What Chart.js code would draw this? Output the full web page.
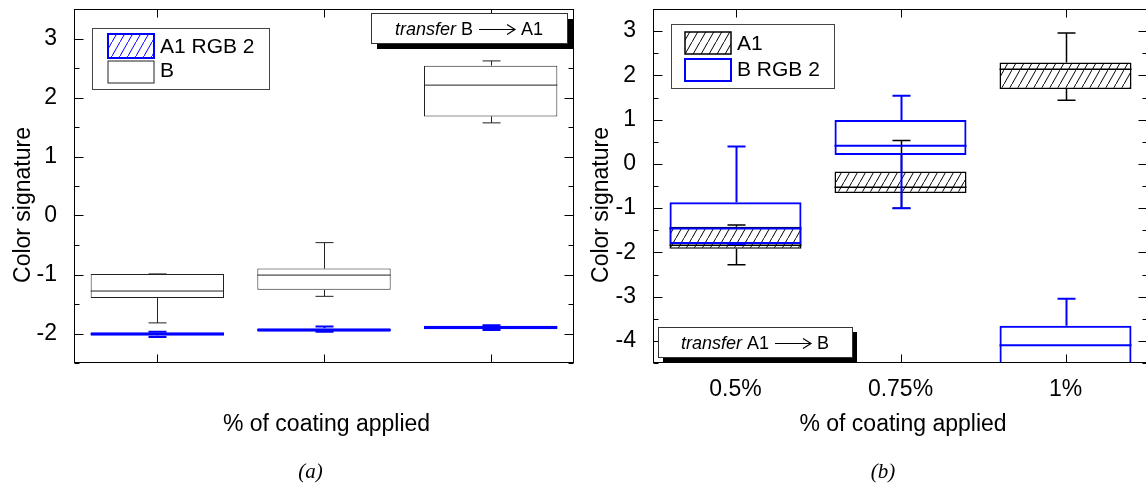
<!DOCTYPE html>
<html>
<head>
<meta charset="utf-8">
<script src="https://cdn.jsdelivr.net/npm/chart.js@4.4.0/dist/chart.umd.min.js"></script>
<style>
  html, body { margin: 0; padding: 0; background: #fff; width: 1146px; height: 484px; overflow: hidden; }
  #wrapA { position: absolute; left: 0; top: 0; width: 600px; height: 484px; }
  #wrapB { position: absolute; left: 580px; top: 0; width: 580px; height: 484px; }
  canvas { display: block; }
</style>
</head>
<body>
<div id="wrapA"><canvas id="chartA" width="600" height="484"></canvas></div>
<div id="wrapB"><canvas id="chartB" width="580" height="484"></canvas></div>
<script>
// ---- categories and tick values ----
const categories = ['0.5%', '0.75%', '1%'];
const yTicksA = [-2, -1, 0, 1, 2, 3];
const yTicksB = [-4, -3, -2, -1, 0, 1, 2, 3];

// ---- panel (a): transfer B -> A1 ----
const aRgbMin    = [-2.06, -1.97, -1.94];
const aRgbQ1     = [-2.04, -1.97, -1.93];
const aRgbMedian = [-2.01, -1.94, -1.90];
const aRgbQ3     = [-1.98, -1.91, -1.87];
const aRgbMax    = [-1.97, -1.88, -1.86];

const aBMin    = [-1.82, -1.37, 1.57];
const aBQ1     = [-1.40, -1.26, 1.68];
const aBMedian = [-1.28, -1.01, 2.21];
const aBQ3     = [-0.99, -0.90, 2.54];
const aBMax    = [-0.99, -0.46, 2.62];

// ---- panel (b): transfer A1 -> B ----
const bA1Min    = [-2.28, -1.00, 1.44];
const bA1Q1     = [-1.92, -0.66, 1.69];
const bA1Median = [-1.84, -0.53, 2.14];
const bA1Q3     = [-1.42, -0.17, 2.29];
const bA1Max    = [-1.38, 0.53, 2.96];

const bRgbMin    = [-1.81, -1.00, -4.90];
const bRgbQ1     = [-1.81, 0.20, -4.70];
const bRgbMedian = [-1.46, 0.41, -4.10];
const bRgbQ3     = [-0.87, 0.99, -3.66];
const bRgbMax    = [0.39, 1.54, -3.05];

const SANS = '"Liberation Sans", Arial, sans-serif';
const SERIF = '"Liberation Serif", "Times New Roman", serif';
const BLUE = '#0000ff';

// diagonal hatch fill
function hatch(color) {
  const c = document.createElement('canvas');
  c.width = 8; c.height = 14;
  const g = c.getContext('2d');
  g.fillStyle = '#fff';
  g.fillRect(0, 0, 8, 14);
  g.strokeStyle = color;
  g.lineWidth = 1;
  g.beginPath();
  g.moveTo(-1, 15.75);
  g.lineTo(9, -1.75);
  g.stroke();
  return g.createPattern(c, 'repeat');
}

function boxDataset(label, min, q1, med, q3, max, style) {
  return {
    label,
    data: q1.map((v, i) => [v, q3[i]]),
    stats: { min, med, max },
    backgroundColor: style.fill,
    borderColor: style.color,
    borderWidth: style.width,
    borderSkipped: false,
    order: style.order,
    legendRank: style.rank,
    grouped: false,
    barPercentage: 1,
    categoryPercentage: 0.8
  };
}

// whiskers, caps and median line drawn right after each box dataset
const whiskerPlugin = {
  id: 'whiskers',
  afterDatasetDraw(chart, args) {
    const ds = chart.data.datasets[args.index];
    if (!ds.stats) return;
    const { ctx, chartArea: a, scales: { y } } = chart;
    const cap = 9;
    ctx.save();
    ctx.beginPath();
    ctx.rect(a.left, a.top, a.right - a.left, a.bottom - a.top);
    ctx.clip();
    ctx.strokeStyle = ds.borderColor;
    ctx.lineWidth = ds.borderWidth;
    args.meta.data.forEach((bar, i) => {
      const cx = Math.round(bar.x) + 0.5;
      const hw = bar.width / 2;
      const [lo, hi] = ds.data[i];
      const pMin = y.getPixelForValue(ds.stats.min[i]);
      const pMax = y.getPixelForValue(ds.stats.max[i]);
      const pMed = y.getPixelForValue(ds.stats.med[i]);
      const pLo = y.getPixelForValue(lo);
      const pHi = y.getPixelForValue(hi);
      ctx.beginPath();
      ctx.moveTo(bar.x - hw, pMed); ctx.lineTo(bar.x + hw, pMed);
      ctx.moveTo(cx, pHi); ctx.lineTo(cx, pMax);
      ctx.moveTo(cx - cap, pMax); ctx.lineTo(cx + cap, pMax);
      ctx.moveTo(cx, pLo); ctx.lineTo(cx, pMin);
      ctx.moveTo(cx - cap, pMin); ctx.lineTo(cx + cap, pMin);
      ctx.stroke();
    });
    ctx.restore();
  }
};

// closed frame with inward tick marks on all four sides
const framePlugin = {
  id: 'frame',
  afterDatasetsDraw(chart) {
    const { ctx, chartArea: a, scales: { x, y } } = chart;
    const L = Math.round(a.left) + 0.5, R = Math.round(a.right) - 0.5;
    const T = Math.round(a.top) + 0.5, B = Math.round(a.bottom) - 0.5;
    ctx.save();
    ctx.strokeStyle = '#000';
    ctx.lineWidth = 1;
    ctx.strokeRect(L, T, R - L, B - T);
    ctx.beginPath();
    y.ticks.forEach(t => {
      const py = Math.round(y.getPixelForValue(t.value)) + 0.5;
      const len = Number.isInteger(t.value) ? 9 : 5;
      ctx.moveTo(L, py); ctx.lineTo(L + len, py);
      ctx.moveTo(R, py); ctx.lineTo(R - len, py);
    });
    x.ticks.forEach((t, i) => {
      const px = Math.round(x.getPixelForTick(i)) + 0.5;
      ctx.moveTo(px, T); ctx.lineTo(px, T + 8);
      ctx.moveTo(px, B); ctx.lineTo(px, B - 8);
    });
    ctx.stroke();
    ctx.restore();
  }
};

// legend box, "transfer" note, axis titles and caption
const decorPlugin = {
  id: 'decor',
  afterDraw(chart, args, o) {
    const { ctx, chartArea: a } = chart;
    ctx.save();

    // legend
    const lg = o.legend;
    ctx.fillStyle = '#fff';
    ctx.fillRect(lg.x, lg.y, lg.w, lg.h);
    ctx.strokeStyle = '#444';
    ctx.lineWidth = 1;
    ctx.strokeRect(lg.x + 0.5, lg.y + 0.5, lg.w, lg.h);
    const items = chart.data.datasets.slice().sort((p, q) => p.legendRank - q.legendRank);
    items.forEach((ds, i) => {
      const r = lg.rows[i];
      ctx.fillStyle = ds.backgroundColor;
      ctx.fillRect(lg.px, r.y, lg.pw, r.h);
      ctx.strokeStyle = ds.borderColor;
      ctx.lineWidth = ds.borderWidth;
      ctx.strokeRect(lg.px, r.y, lg.pw, r.h);
      ctx.fillStyle = '#000';
      ctx.font = '21px ' + SANS;
      ctx.textAlign = 'left';
      ctx.textBaseline = 'alphabetic';
      ctx.fillText(ds.label, lg.tx, r.base);
    });

    // transfer note with drop shadow
    const n = o.note;
    ctx.fillStyle = '#000';
    ctx.fillRect(n.x + n.sh, n.y + n.sh, n.w, n.h);
    ctx.fillStyle = '#fff';
    ctx.fillRect(n.x, n.y, n.w, n.h);
    ctx.strokeStyle = '#333';
    ctx.lineWidth = 1;
    ctx.strokeRect(n.x + 0.5, n.y + 0.5, n.w, n.h);
    const fi = 'italic 18px ' + SANS, fn = '18px ' + SANS;
    ctx.font = fi; const w1 = ctx.measureText('transfer ').width;
    ctx.font = fn; const w2 = ctx.measureText(n.from).width;
    const w3 = ctx.measureText(n.to).width;
    const arrow = 36, gap = 6;
    const total = w1 + w2 + gap + arrow + gap + w3;
    let cx = n.x + (n.w - total) / 2;
    const by = n.y + n.h / 2 + 6.5;
    ctx.fillStyle = '#000';
    ctx.textAlign = 'left';
    ctx.textBaseline = 'alphabetic';
    ctx.font = fi; ctx.fillText('transfer ', cx, by); cx += w1;
    ctx.font = fn; ctx.fillText(n.from, cx, by); cx += w2 + gap;
    const ay = Math.round(by - 6) + 0.5;
    ctx.strokeStyle = '#000';
    ctx.lineWidth = 1.2;
    ctx.beginPath();
    ctx.moveTo(cx, ay); ctx.lineTo(cx + arrow, ay);
    ctx.moveTo(cx + arrow - 8, ay - 5); ctx.lineTo(cx + arrow, ay); ctx.lineTo(cx + arrow - 8, ay + 5);
    ctx.stroke();
    cx += arrow + gap;
    ctx.fillText(n.to, cx, by);

    // axis titles
    ctx.fillStyle = '#000';
    ctx.font = '23px ' + SANS;
    ctx.textAlign = 'center';
    ctx.textBaseline = 'alphabetic';
    ctx.fillText(o.xTitle, (a.left + a.right) / 2 + 2.5, 431);
    ctx.save();
    ctx.translate(o.yTitleX, 205);
    ctx.rotate(-Math.PI / 2);
    ctx.fillText(o.yTitle, 0, 0);
    ctx.restore();

    // caption
    ctx.font = 'italic 21px ' + SERIF;
    ctx.fillText(o.caption.text, o.caption.x, 478);
    ctx.restore();
  }
};

function makeChart(id, datasets, yMin, yMax, yTicks, showX, padRight, yWidth, decor) {
  return new Chart(document.getElementById(id), {
    type: 'bar',
    data: { labels: categories, datasets },
    plugins: [whiskerPlugin, framePlugin, decorPlugin],
    options: {
      responsive: false,
      animation: false,
      devicePixelRatio: 1,
      layout: { padding: { top: 9, right: padRight, bottom: 0, left: 0 } },
      plugins: { legend: { display: false }, tooltip: { enabled: false }, decor },
      scales: {
        x: {
          type: 'category',
          offset: true,
          grid: { display: false },
          border: { display: false },
          ticks: { display: showX, padding: 5, color: '#000', font: { family: SANS, size: 23 } },
          afterFit(s) { s.height = 121; s.paddingLeft = 0; s.paddingRight = 0; }
        },
        y: {
          min: yMin,
          max: yMax,
          grid: { display: false },
          border: { display: false },
          ticks: {
            stepSize: 0.5,
            autoSkip: false,
            padding: 9,
            color: '#000',
            font: { family: SANS, size: 23 },
            callback: v => (yTicks.includes(v) ? String(v) : '')
          },
          afterFit(s) { s.width = yWidth; s.paddingTop = 0; s.paddingBottom = 0; }
        }
      }
    }
  });
}

const blueHatch = hatch(BLUE);
const blackHatch = hatch('#000');

makeChart('chartA', [
  boxDataset('A1 RGB 2', aRgbMin, aRgbQ1, aRgbMedian, aRgbQ3, aRgbMax,
    { color: BLUE, width: 2, fill: blueHatch, order: 1, rank: 0 }),
  boxDataset('B', aBMin, aBQ1, aBMedian, aBQ3, aBMax,
    { color: '#222', width: 1, fill: '#fff', order: 2, rank: 1 })
], -2.5, 3.5, yTicksA, false, 26, 74, {
  legend: { x: 92, y: 28, w: 177, h: 61, px: 108, pw: 46, tx: 160,
    rows: [{ y: 34, h: 24, base: 53 }, { y: 61, h: 22, base: 77 }] },
  note: { x: 371, y: 13, w: 196, h: 30, sh: 6, from: 'B', to: 'A1' },
  xTitle: '% of coating applied',
  yTitle: 'Color signature',
  yTitleX: 29.5,
  caption: { text: '(a)', x: 310.5 }
});

makeChart('chartB', [
  boxDataset('A1', bA1Min, bA1Q1, bA1Median, bA1Q3, bA1Max,
    { color: '#000', width: 1.5, fill: blackHatch, order: 2, rank: 0 }),
  boxDataset('B RGB 2', bRgbMin, bRgbQ1, bRgbMedian, bRgbQ3, bRgbMax,
    { color: BLUE, width: 2, fill: 'rgba(255,255,255,0)', order: 1, rank: 1 })
], -4.5, 3.5, yTicksB, true, 12, 73, {
  legend: { x: 91, y: 24, w: 163, h: 64, px: 105, pw: 46, tx: 157,
    rows: [{ y: 32, h: 22, base: 50 }, { y: 59, h: 22, base: 76 }] },
  note: { x: 78, y: 327, w: 194, h: 30, sh: 5, from: 'A1', to: 'B' },
  xTitle: '% of coating applied',
  yTitle: 'Color signature',
  yTitleX: 28,
  caption: { text: '(b)', x: 303 }
});
</script>
</body>
</html>
